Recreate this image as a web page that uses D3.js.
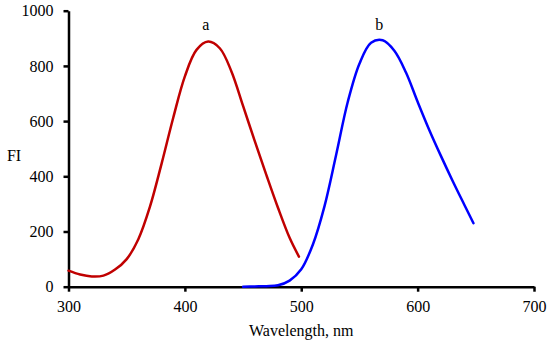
<!DOCTYPE html>
<meta charset="utf-8">
<style>
  body { margin: 0; background: #fff; }
  .axis path, .axis line { stroke: #000; stroke-width: 2.5px; }
  .curve { fill: none; stroke-width: 2.5px; stroke-linejoin: round; stroke-linecap: round; }
</style>
<svg width="550" height="346"></svg>
<script src="https://d3js.org/d3.v7.min.js"></script>
<script>

  // Curve a (red) - wavelength / intensity
  var waveA = [300, 310, 320, 330, 340, 350, 360, 370, 380, 390, 400, 410, 420, 430, 440, 450, 460, 470, 480, 490, 498];
  var fiA   = [58, 44, 37, 40, 62, 100, 172, 290, 446, 612, 762, 858, 888, 864, 780, 655, 528, 405, 286, 177, 109];

  // Curve b (blue)
  var waveB = [450, 460, 470, 480, 490, 500, 510, 520, 530, 540, 550, 560, 570, 580, 590, 600, 610, 620, 630, 640, 648];
  var fiB   = [0, 1, 2, 5, 22, 63, 153, 292, 478, 670, 808, 884, 893, 855, 776, 670, 568, 474, 384, 298, 230];

  var xTicks = [300, 400, 500, 600, 700];
  var yTicks = [0, 200, 400, 600, 800, 1000];

  var font = "'Liberation Serif', serif";

  var svg = d3.select("svg");
  var margin = { top: 10.7, right: 16, bottom: 59.3, left: 68.5 };
  var width = 550 - margin.left - margin.right;
  var height = 346 - margin.top - margin.bottom;

  var g = svg.append("g")
    .attr("transform", "translate(" + margin.left + "," + margin.top + ")");

  var x = d3.scaleLinear().domain([300, 700]).range([0, width]);
  var y = d3.scaleLinear().domain([0, 1000]).range([height, 0]);

  // axes
  g.append("g")
    .attr("class", "axis")
    .attr("transform", "translate(0," + height + ")")
    .call(d3.axisBottom(x).tickValues(xTicks).tickFormat(d3.format("d"))
      .tickSize(5).tickSizeOuter(0).tickPadding(9))
    .attr("font-family", font).attr("font-size", 16);

  g.append("g")
    .attr("class", "axis")
    .call(d3.axisLeft(y).tickValues(yTicks).tickFormat(d3.format("d"))
      .tickSize(5).tickSizeOuter(0).tickPadding(10))
    .attr("font-family", font).attr("font-size", 16);

  var line = d3.line()
    .x(function (d) { return x(d[0]); })
    .y(function (d) { return y(d[1]); })
    .curve(d3.curveCatmullRom);

  g.append("path")
    .datum(d3.zip(waveA, fiA))
    .attr("class", "curve")
    .attr("stroke", "#c00000")
    .attr("d", line);

  g.append("path")
    .datum(d3.zip(waveB, fiB))
    .attr("class", "curve")
    .attr("stroke", "#0000ff")
    .attr("d", line);

  // curve labels
  g.append("text")
    .attr("font-family", font).attr("font-size", 16)
    .attr("x", x(418)).attr("y", y(930))
    .attr("text-anchor", "middle").text("a");

  g.append("text")
    .attr("font-family", font).attr("font-size", 16)
    .attr("x", x(567)).attr("y", y(930))
    .attr("text-anchor", "middle").text("b");

  // axis titles
  svg.append("text")
    .attr("font-family", font).attr("font-size", 16)
    .attr("x", 14).attr("y", 161)
    .attr("text-anchor", "middle").text("FI");

  svg.append("text")
    .attr("font-family", font).attr("font-size", 16)
    .attr("x", margin.left + width / 2).attr("y", 336)
    .attr("text-anchor", "middle").text("Wavelength, nm");

</script>
